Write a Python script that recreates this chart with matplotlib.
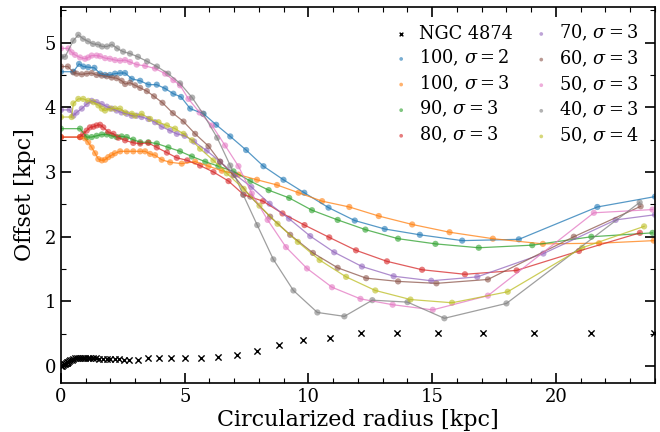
import numpy as np
import matplotlib
matplotlib.use('Agg')
import matplotlib.pyplot as plt

plt.rcParams['font.family'] = 'DejaVu Serif'
plt.rcParams['mathtext.fontset'] = 'dejavuserif'

# NGC 4874 measured offsets
ngc_r = [0.02, 0.05, 0.08, 0.11, 0.15, 0.19, 0.23, 0.28, 0.33, 0.38, 0.44, 0.50,
         0.57, 0.64, 0.72, 0.80, 0.89, 0.98, 1.08, 1.19, 1.30, 1.42, 1.55, 1.69,
         1.84, 2.00, 2.17, 2.35, 2.55, 2.75, 3.13, 3.51, 3.96, 4.44, 5.02, 5.65,
         6.36, 7.11, 7.93, 8.82, 9.78, 10.88, 12.12, 13.59, 15.22, 17.06, 19.11,
         21.41, 23.96]
ngc_off = [0.0, 0.01, 0.02, 0.03, 0.04, 0.05, 0.06, 0.07, 0.08, 0.09, 0.10, 0.11,
           0.12, 0.12, 0.13, 0.13, 0.13, 0.13, 0.13, 0.12, 0.12, 0.12, 0.11, 0.11,
           0.11, 0.11, 0.11, 0.11, 0.10, 0.09, 0.10, 0.13, 0.13, 0.13, 0.13, 0.12,
           0.14, 0.18, 0.24, 0.32, 0.40, 0.44, 0.51, 0.51, 0.51, 0.51, 0.51,
           0.51, 0.51]

# simulations
r_100s2 = [0, 0.5, 0.73, 0.90, 1.10, 1.35, 1.58, 1.78, 1.98, 2.18, 2.39, 2.59, 2.86,
           3.20, 3.53, 3.87, 4.21, 4.54, 4.85, 5.22, 5.76, 6.27, 6.84, 7.48, 8.18,
           8.99, 9.83, 10.81, 11.87, 13.08, 14.5, 16.21, 18.5, 21.67, 24.0]
o_100s2 = [4.55, 4.55, 4.67, 4.63, 4.62, 4.61, 4.52, 4.50, 4.50, 4.52, 4.53, 4.53, 4.44,
           4.41, 4.35, 4.35, 4.29, 4.21, 4.16, 3.98, 3.90, 3.73, 3.55, 3.34, 3.09,
           2.88, 2.68, 2.45, 2.25, 2.12, 2.03, 1.94, 1.96, 2.46, 2.62]

r_100s3 = [0, 0.77, 0.97, 1.10, 1.24, 1.38, 1.51, 1.65, 1.78, 1.91, 2.05, 2.18, 2.39,
           2.66, 2.92, 3.20, 3.40, 3.60, 3.80, 4.07, 4.41, 4.88, 5.42, 5.96, 6.50,
           7.17, 7.92, 8.73, 9.60, 10.55, 11.65, 12.84, 14.19, 15.7, 17.45, 19.47,
           21.74, 23.95]
o_100s3 = [3.54, 3.54, 3.52, 3.46, 3.38, 3.29, 3.20, 3.18, 3.19, 3.23, 3.26, 3.29, 3.32,
           3.32, 3.32, 3.32, 3.32, 3.28, 3.26, 3.19, 3.15, 3.13, 3.16, 3.09, 3.02,
           2.96, 2.88, 2.80, 2.68, 2.55, 2.46, 2.32, 2.19, 2.07, 1.97, 1.89,
           1.90, 1.94]

r_90s3 = [0, 0.77, 1.04, 1.24, 1.44, 1.65, 1.85, 2.05, 2.25, 2.45, 2.66, 2.92, 3.20,
          3.53, 3.87, 4.34, 4.81, 5.29, 5.83, 6.36, 6.97, 7.65, 8.39, 9.22, 10.14,
          11.18, 12.30, 13.62, 15.13, 16.88, 19.04, 21.43, 23.9]
o_90s3 = [3.67, 3.67, 3.54, 3.54, 3.56, 3.58, 3.58, 3.56, 3.54, 3.55, 3.54, 3.50, 3.46,
          3.46, 3.44, 3.38, 3.32, 3.24, 3.16, 3.09, 3.01, 2.86, 2.72, 2.60, 2.41,
          2.26, 2.11, 1.97, 1.89, 1.83, 1.87, 2.00, 2.06]

r_80s3 = [0, 0.77, 0.90, 1.04, 1.17, 1.31, 1.44, 1.58, 1.71, 1.91, 2.12, 2.32, 2.59,
          2.92, 3.20, 3.53, 3.87, 4.28, 4.68, 5.10, 5.62, 6.16, 6.77, 7.38, 8.16,
          8.95, 9.84, 10.84, 11.92, 13.17, 14.59, 16.32, 18.41, 20.93, 23.39]
o_80s3 = [3.54, 3.54, 3.59, 3.64, 3.69, 3.70, 3.72, 3.73, 3.69, 3.62, 3.59, 3.53, 3.49,
          3.45, 3.44, 3.45, 3.38, 3.30, 3.22, 3.18, 3.10, 3.00, 2.86, 2.65, 2.55,
          2.36, 2.18, 1.99, 1.79, 1.62, 1.49, 1.42, 1.48, 1.78, 2.06]

r_70s3 = [0, 0.35, 0.50, 0.63, 0.84, 1.04, 1.24, 1.44, 1.65, 1.85, 2.05, 2.25, 2.45,
          2.66, 2.86, 3.06, 3.26, 3.53, 3.80, 4.07, 4.41, 4.68, 5.00, 5.38, 5.89,
          6.43, 7.04, 7.69, 8.43, 9.21, 10.07, 11.04, 12.16, 13.44, 14.96, 16.82,
          19.49, 22.41, 24.0]
o_70s3 = [3.96, 3.96, 3.87, 3.92, 3.98, 4.05, 4.10, 4.08, 4.05, 4.01, 3.98, 3.95, 3.92,
          3.90, 3.87, 3.87, 3.85, 3.82, 3.77, 3.70, 3.64, 3.59, 3.56, 3.47, 3.33,
          3.16, 2.96, 2.77, 2.51, 2.28, 2.01, 1.76, 1.54, 1.39, 1.32, 1.38,
          1.74, 2.26, 2.34]

r_60s3 = [0, 0.28, 0.50, 0.63, 0.84, 1.04, 1.24, 1.44, 1.65, 1.85, 2.05, 2.25, 2.45,
          2.59, 2.79, 2.99, 3.20, 3.47, 3.76, 4.10, 4.52, 4.95, 5.42, 5.96, 6.43,
          6.97, 7.65, 8.45, 9.26, 10.18, 11.18, 12.33, 13.62, 15.17, 17.25, 20.72,
          23.42]
o_60s3 = [4.63, 4.63, 4.54, 4.52, 4.51, 4.52, 4.53, 4.50, 4.49, 4.48, 4.46, 4.45, 4.41,
          4.36, 4.38, 4.34, 4.30, 4.25, 4.17, 4.07, 3.91, 3.78, 3.59, 3.40, 3.16,
          2.95, 2.62, 2.31, 2.03, 1.75, 1.52, 1.36, 1.31, 1.28, 1.34, 2.00,
          2.47]

r_50s3 = [0, 0.30, 0.43, 0.57, 0.77, 0.97, 1.10, 1.24, 1.44, 1.58, 1.78, 1.98, 2.18,
          2.39, 2.59, 2.79, 3.06, 3.40, 3.80, 4.21, 4.54, 4.81, 5.15, 5.60, 6.10,
          6.63, 7.17, 7.71, 8.35, 9.09, 9.94, 10.95, 12.1, 13.4, 15.02, 17.25,
          21.53, 23.9]
o_50s3 = [4.91, 4.91, 4.85, 4.81, 4.77, 4.75, 4.77, 4.80, 4.80, 4.79, 4.76, 4.75, 4.73,
          4.72, 4.73, 4.70, 4.66, 4.64, 4.60, 4.52, 4.42, 4.34, 4.13, 3.92, 3.72,
          3.41, 3.09, 2.67, 2.26, 1.84, 1.51, 1.22, 1.04, 0.95, 0.87, 1.09,
          2.37, 2.42]

r_40s3 = [0, 0.16, 0.50, 0.70, 0.89, 1.09, 1.29, 1.50, 1.66, 1.86, 2.06, 2.27, 2.51,
          2.79, 3.11, 3.48, 3.88, 4.33, 4.81, 5.30, 5.74, 6.31, 6.84, 7.36, 7.93,
          8.58, 9.39, 10.36, 11.45, 12.58, 14.0, 15.49, 18.0, 23.38]
o_40s3 = [4.78, 4.78, 5.03, 5.12, 5.06, 5.02, 4.98, 4.97, 4.94, 4.94, 4.97, 4.91, 4.86,
          4.83, 4.78, 4.71, 4.63, 4.52, 4.37, 4.15, 3.90, 3.53, 3.10, 2.65, 2.18,
          1.65, 1.17, 0.83, 0.77, 1.02, 0.99, 0.74, 0.97, 2.53]

r_50s4 = [0, 0.43, 0.50, 0.70, 0.90, 1.10, 1.31, 1.51, 1.65, 1.78, 1.98, 2.18, 2.39,
          2.59, 2.86, 2.99, 3.26, 3.60, 3.94, 4.28, 4.61, 4.95, 5.29, 5.62, 6.16,
          6.70, 7.38, 8.02, 8.75, 9.57, 10.45, 11.52, 12.70, 14.12, 15.8, 18.05,
          21.06, 23.56]
o_50s4 = [3.85, 3.85, 4.06, 4.13, 4.13, 4.10, 4.08, 4.03, 3.98, 3.95, 3.98, 3.98, 3.98,
          3.92, 3.90, 3.87, 3.90, 3.82, 3.77, 3.72, 3.67, 3.59, 3.49, 3.36, 3.18,
          2.98, 2.74, 2.48, 2.20, 1.92, 1.64, 1.38, 1.17, 1.03, 0.98, 1.15,
          1.83, 2.16]

runs = [
    (r_100s2, o_100s2, r'100, $\sigma=2$', 'tab:blue'),
    (r_100s3, o_100s3, r'100, $\sigma=3$', 'tab:orange'),
    (r_90s3, o_90s3, r'90, $\sigma=3$', 'tab:green'),
    (r_80s3, o_80s3, r'80, $\sigma=3$', 'tab:red'),
    (r_70s3, o_70s3, r'70, $\sigma=3$', 'tab:purple'),
    (r_60s3, o_60s3, r'60, $\sigma=3$', 'tab:brown'),
    (r_50s3, o_50s3, r'50, $\sigma=3$', 'tab:pink'),
    (r_40s3, o_40s3, r'40, $\sigma=3$', 'tab:gray'),
    (r_50s4, o_50s4, r'50, $\sigma=4$', 'tab:olive'),
]

fig = plt.figure(figsize=(6.6, 4.32), dpi=100)
ax = fig.add_axes([0.0924, 0.1134, 0.9, 0.8704])

ax.scatter(ngc_r, ngc_off, marker='x', color='k', s=20, lw=1.0, label='NGC 4874', zorder=3)

for r, o, lab, c in runs:
    ax.plot(r, o, '-', color=c, lw=0.9, alpha=0.75)
    ax.scatter(r, o, s=20, color=c, alpha=0.6, edgecolors='none', label=lab)

ax.set_xlim(0, 24)
ax.set_ylim(-0.26, 5.55)
ax.set_xticks([0, 5, 10, 15, 20])
ax.set_xticks(np.arange(0, 25, 1), minor=True)
ax.set_yticks([0, 1, 2, 3, 4, 5])
ax.set_yticks(np.arange(0, 5.6, 0.5), minor=True)
ax.tick_params(which='both', direction='in', top=True, right=True, labelsize=13)
ax.tick_params(which='major', length=7, width=1.2)
ax.tick_params(which='minor', length=3.5, width=0.8)
for s in ax.spines.values():
    s.set_linewidth(1.2)

ax.set_xlabel('Circularized radius [kpc]', fontsize=16, labelpad=2)
ax.set_ylabel('Offset [kpc]', fontsize=16, labelpad=6)

ax.legend(loc='upper right', ncol=2, frameon=False, fontsize=12.8, markerscale=0.6,
          handlelength=1.2, handletextpad=0.4, columnspacing=1.0, labelspacing=0.3,
          borderaxespad=0.5)

fig.savefig('out.png', dpi=100)
